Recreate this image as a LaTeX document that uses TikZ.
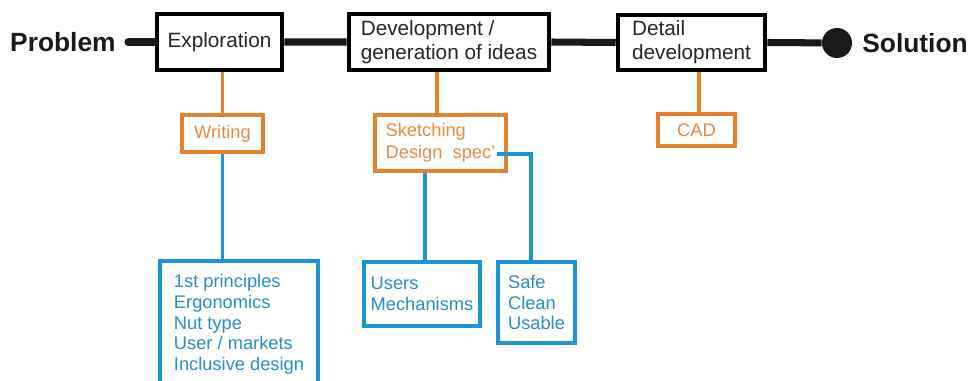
\documentclass[tikz,border=0pt]{standalone}
\usepackage{fontspec}
\setmainfont{Liberation Sans}
\usepackage{tikz}
\usetikzlibrary{positioning}
\definecolor{stageorange}{RGB}{229,128,44}
\definecolor{orangetext}{RGB}{228,140,72}
\definecolor{toolblue}{RGB}{27,149,216}
\definecolor{bluetext}{RGB}{42,140,204}
\tikzset{stage/.style={draw=black, line width=2.6pt, fill=white, align=left, inner sep=0pt,
  font=\fontsize{11.8}{13.5}\selectfont, text=black!85}}
\tikzset{method/.style={draw=stageorange, line width=2.2pt, fill=white, align=left, inner sep=0pt,
  font=\fontsize{10.4}{12.5}\selectfont, text=orangetext}}
\tikzset{topic/.style={draw=toolblue, line width=2.2pt, fill=white, align=left, inner sep=0pt,
  font=\fontsize{10.4}{11.8}\selectfont, text=bluetext}}
\tikzset{mainline/.style={line width=4pt, black!90}}
\tikzset{orangeline/.style={draw=stageorange, line width=2.2pt}}
\tikzset{blueline/.style={draw=toolblue, line width=2.2pt}}
\tikzset{endlabel/.style={font=\fontsize{15}{18}\selectfont\bfseries, text=black!90, inner sep=0pt}}

\begin{document}
\begin{tikzpicture}[x=0.02cm,y=-0.02cm]
\useasboundingbox (0,0) rectangle (970,381);
% main line
\node[endlabel, anchor=east] (problem) at (116,42) {Problem};
\coordinate (start) at (128,42);
\node[stage, minimum width=2.5cm, minimum height=1.12cm] (explore) at (219.5,42) {Exploration};
\node[stage, minimum width=4cm, minimum height=1.12cm] (develop) at (449,42) {Development /\\generation of ideas};
\node[stage, minimum width=2.94cm, minimum height=1.1cm] (detail) at (691.5,42.5) {Detail\\development};
\node[circle, fill=black!90, minimum size=0.6cm, inner sep=0pt] (dot) at (837,43) {};
\node[endlabel, anchor=west] (solution) at (862,43) {Solution};
\draw[mainline, line cap=round] (start) -- (explore.west);
\draw[mainline] (explore.east) -- (develop.west) (develop.east) -- (detail.west)
  (detail.east) -- (dot);

\node[method, minimum width=1.62cm, minimum height=0.74cm] (writing) at (222.5,133.5) {Writing};
\node[method, minimum width=2.62cm, minimum height=1.12cm] (sketch) at (440.5,143) {Sketching\\Design\ \ spec'};
\node[method, minimum width=1.54cm, minimum height=0.64cm] (cad) at (696.5,130) {CAD};
\draw[orangeline] (writing.north) -- (writing.north |- explore.south);
\draw[orangeline] ([xshift=-0.07cm]sketch.north) -- ([xshift=-0.07cm]sketch.north |- develop.south);
\draw[orangeline] ([xshift=0.05cm]cad.north) -- ([xshift=0.05cm]cad.north |- detail.south);

\node[topic, minimum width=3.16cm, minimum height=2.54cm] (ideas) at (239,324.5)
  {1st principles\\Ergonomics\\Nut type\\User / markets\\Inclusive design};
\node[topic, minimum width=2.32cm, minimum height=1.28cm] (users) at (422,294) {Users\\Mechanisms};
\node[topic, minimum width=1.54cm, minimum height=1.62cm] (safe) at (536.5,302.5) {Safe\\Clean\\Usable};
\coordinate (specend) at (497,154);
\draw[blueline] (writing.south) -- (writing.south |- ideas.north);
\draw[blueline] ([xshift=0.06cm]users.north) -- ([xshift=0.06cm]users.north |- sketch.south);
\draw[blueline] (specend) -| ([xshift=-0.11cm]safe.north);
\end{tikzpicture}
\end{document}
